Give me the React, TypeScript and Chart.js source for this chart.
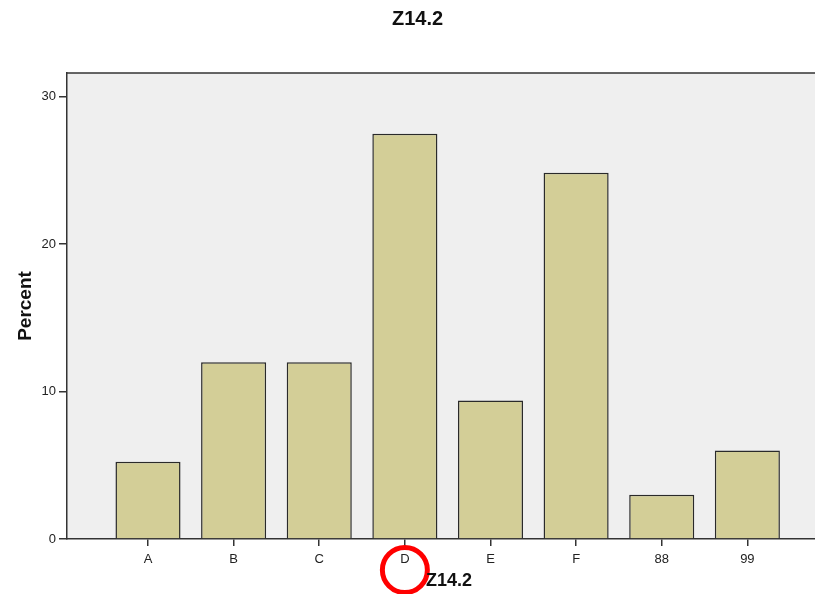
import React, { useEffect, useRef } from "react";
import { Chart, registerables } from "chart.js";

Chart.register(...registerables);

const categories = ["A", "B", "C", "D", "E", "F", "88", "99"];
const percentValues = [5.25, 12.0, 12.0, 27.5, 9.4, 24.85, 3.0, 6.0];
const yTicks = [0, 10, 20, 30];
const chartTitle = "Z14.2";
const xTitle = "Z14.2";
const yTitle = "Percent";
const highlightedCategory = "D";

const FONT = "'Liberation Sans', Arial, sans-serif";

const decorPlugin = {
  id: "decor",
  beforeDraw(chart: any) {
    const { ctx, chartArea } = chart;
    ctx.save();
    ctx.fillStyle = "#efefef";
    ctx.fillRect(chartArea.left, chartArea.top, chartArea.right - chartArea.left, chartArea.bottom - chartArea.top);
    ctx.restore();
  },
  afterDraw(chart: any) {
    const { ctx, chartArea } = chart;
    ctx.save();
    // top border
    ctx.strokeStyle = "#333";
    ctx.lineWidth = 1.5;
    ctx.beginPath();
    ctx.moveTo(chartArea.left, chartArea.top);
    ctx.lineTo(chartArea.right, chartArea.top);
    ctx.stroke();
    // chart title
    ctx.fillStyle = "#111";
    ctx.font = `bold 20px ${FONT}`;
    ctx.textAlign = "center";
    ctx.textBaseline = "middle";
    ctx.fillText(chartTitle, chart.width / 2 + 10, 19);
    // red circle annotation
    const xs = chart.scales.x;
    const idx = categories.indexOf(highlightedCategory);
    const cx = xs.getPixelForValue(idx);
    ctx.strokeStyle = "#ff0000";
    ctx.lineWidth = 5;
    ctx.beginPath();
    ctx.arc(cx, chartArea.bottom + 31, 22.5, 0, Math.PI * 2);
    ctx.stroke();
    // x axis title
    ctx.fillStyle = "#111";
    ctx.font = `bold 18px ${FONT}`;
    ctx.fillText(xTitle, (chartArea.left + chartArea.right) / 2 + 8, chartArea.bottom + 42);
    ctx.restore();
  },
};

export default function App() {
  const ref = useRef<HTMLCanvasElement | null>(null);
  useEffect(() => {
    if (!ref.current) return;
    const chart = new Chart(ref.current, {
      type: "bar",
      data: {
        datasets: [
          {
            data: percentValues.map((v, i) => ({ x: i, y: v })),
            backgroundColor: "#d3ce97",
            borderColor: "#2a2a2a",
            borderWidth: 1.5,
            barPercentage: 0.76,
            categoryPercentage: 1,
          },
        ],
      },
      options: {
        animation: false,
        responsive: false,
        maintainAspectRatio: false,
        layout: { padding: { top: 73, right: 0, left: 0, bottom: 0 } },
        plugins: { legend: { display: false }, tooltip: { enabled: false } },
        scales: {
          x: {
            type: "linear",
            offset: false,
            min: -0.946,
            max: 7.79,
            afterBuildTicks: (scale: any) => {
              scale.ticks = categories.map((_, i) => ({ value: i }));
            },
            afterFit: (scale: any) => {
              scale.height = 55;
            },
            ticks: {
              autoSkip: false,
              maxRotation: 0,
              padding: 6,
              color: "#222",
              font: { family: FONT, size: 13 },
              callback: (v: any) => categories[Math.round(Number(v))] ?? "",
            },
            grid: { offset: false, drawOnChartArea: false, tickLength: 7, color: "#333", lineWidth: 1.5 },
            border: { display: true, color: "#333", width: 1.5 },
            title: { display: false },
          },
          y: {
            min: 0,
            max: 31.62,
            afterBuildTicks: (scale: any) => {
              scale.ticks = yTicks.map((v) => ({ value: v }));
            },
            afterFit: (scale: any) => {
              scale.width = 67;
            },
            ticks: {
              padding: 3,
              color: "#222",
              font: { family: FONT, size: 13 },
            },
            grid: { drawOnChartArea: false, tickLength: 8, color: "#333", lineWidth: 1.5 },
            border: { display: true, color: "#333", width: 1.5 },
            title: {
              display: true,
              text: yTitle,
              color: "#111",
              font: { family: FONT, size: 19, weight: "bold" },
              padding: { top: 14, bottom: 0 },
            },
          },
        },
      },
      plugins: [decorPlugin],
    } as any);
    return () => chart.destroy();
  }, []);
  return (
    <div style={{ position: "fixed", left: 0, top: 0, width: 815, height: 594, background: "#fff" }}>
      <canvas ref={ref} width={815} height={594} style={{ display: "block", width: 815, height: 594 }} />
    </div>
  );
}
